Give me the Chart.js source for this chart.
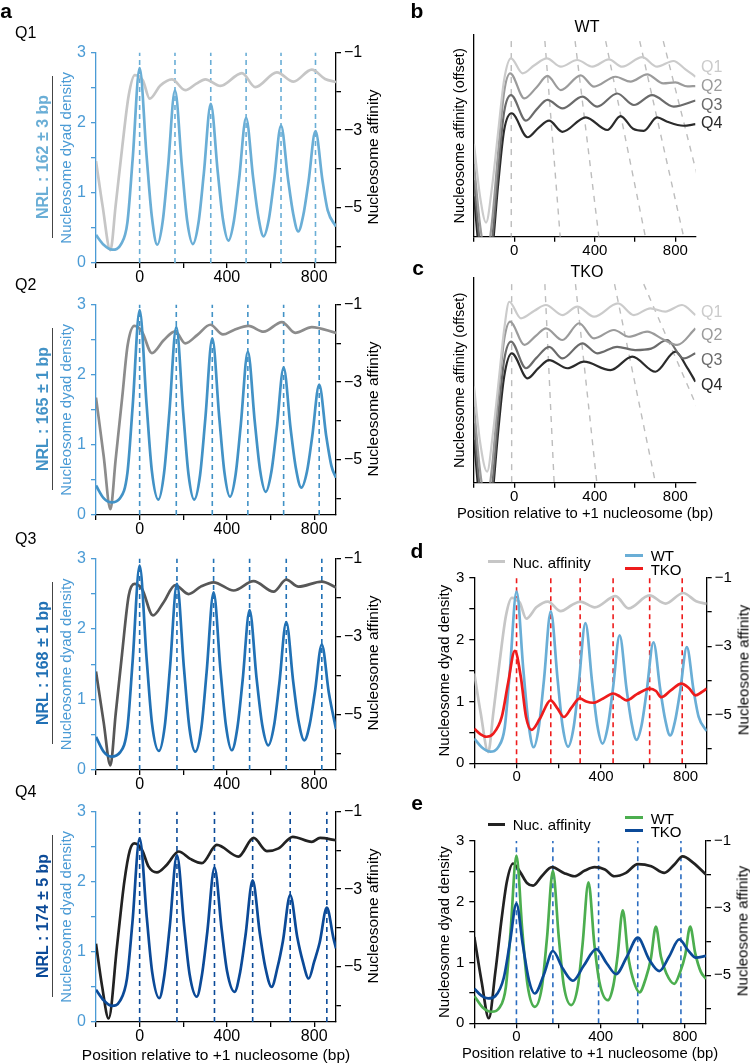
<!DOCTYPE html>
<html>
<head>
<meta charset="utf-8">
<script src="https://cdn.jsdelivr.net/npm/chart.js@4.4.1/dist/chart.umd.min.js"></script>
<style>
body { margin:0; background:#fff; font-family:"Liberation Sans", Arial, sans-serif; }
#page { position:relative; width:750px; height:1063px; overflow:hidden; background:#fff; }
#page canvas { position:absolute; }
.txt { position:absolute; white-space:nowrap; color:#000; line-height:1; }
.ctr { transform:translate(-50%,-50%); }
.lft { transform:translate(0,-50%); }
.rot { transform:translate(-50%,-50%) rotate(-90deg); }
.sw { position:absolute; height:3px; }
</style>
</head>
<body>
<div id="page"></div>
<script>
// ---- shared ticks ----
const xTickLabels = [0, 400, 800];
const densityTickLabels = [0, 1, 2, 3];
const affinityTickLabels = [-1, -3, -5];

// ---- panel a : dyad density [position, value] ----
const q1Density = [[-200,0.40],[-165,0.26],[-125,0.19],[-85,0.27],[-56,0.58],[-32,1.48],[0,2.78],[32,1.52],[56,0.66],[81,0.26],[106,0.6],[130,1.36],[162,2.46],[194,1.37],[218,0.6],[244,0.27],[270,0.58],[294,1.27],[326,2.27],[358,1.3],[382,0.62],[407,0.32],[432,0.6],[456,1.2],[488,2.07],[520,1.22],[544,0.66],[568,0.38],[592,0.62],[616,1.17],[648,1.96],[680,1.2],[704,0.7],[727,0.45],[750,0.68],[774,1.16],[806,1.88],[838,1.18],[862,0.75],[900,0.52]];
const q2Density = [[-200,0.42],[-165,0.24],[-130,0.18],[-90,0.24],[-56,0.6],[-32,1.55],[0,2.92],[32,1.57],[56,0.63],[86,0.22],[112,0.6],[136,1.45],[168,2.68],[200,1.45],[224,0.58],[250,0.22],[277,0.57],[301,1.37],[333,2.52],[365,1.39],[389,0.6],[414,0.26],[440,0.58],[464,1.3],[496,2.33],[528,1.32],[552,0.64],[578,0.33],[604,0.62],[628,1.22],[660,2.10],[692,1.23],[716,0.67],[741,0.39],[767,0.62],[791,1.12],[823,1.86],[855,1.13],[879,0.7],[900,0.53]];
const q3Density = [[-200,0.47],[-165,0.26],[-130,0.19],[-90,0.25],[-56,0.6],[-32,1.55],[0,2.90],[32,1.58],[57,0.65],[88,0.27],[115,0.62],[139,1.45],[171,2.64],[203,1.45],[228,0.6],[255,0.26],[283,0.6],[307,1.39],[339,2.52],[371,1.4],[396,0.62],[422,0.28],[448,0.6],[472,1.27],[504,2.27],[536,1.3],[562,0.64],[590,0.35],[616,0.63],[640,1.22],[672,2.10],[704,1.25],[728,0.7],[755,0.42],[779,0.64],[803,1.1],[835,1.78],[867,1.1],[900,0.58]];
const q4Density = [[-200,0.46],[-165,0.31],[-127,0.23],[-90,0.3],[-58,0.62],[-33,1.42],[0,2.62],[33,1.48],[58,0.7],[90,0.34],[113,0.66],[138,1.36],[171,2.38],[204,1.37],[229,0.68],[262,0.36],[285,0.66],[310,1.28],[343,2.20],[376,1.32],[401,0.72],[435,0.43],[460,0.7],[485,1.23],[518,2.02],[551,1.26],[576,0.78],[605,0.5],[632,0.78],[657,1.16],[690,1.81],[723,1.2],[748,0.86],[775,0.62],[800,0.86],[825,1.13],[858,1.63],[888,1.2],[900,1.05]];

// ---- panel a : nucleosome affinity ----
const q1Affinity = [[-200,-3.8],[-170,-4.95],[-134,-6.1],[-110,-4.95],[-80,-3.45],[-50,-2.1],[-22,-1.58],[15,-1.72],[46,-2.19],[95,-1.85],[148,-1.69],[209,-1.97],[260,-1.8],[301,-1.69],[370,-1.86],[469,-1.53],[530,-1.89],[629,-1.51],[705,-1.75],[789,-1.44],[850,-1.68],[900,-1.76]];
const q2Affinity = [[-200,-3.4],[-165,-4.9],[-134,-6.28],[-110,-5.0],[-80,-3.4],[-55,-2.05],[-24,-1.55],[11,-1.70],[56,-2.25],[110,-1.92],[163,-1.69],[209,-2.0],[265,-1.78],[324,-1.52],[382,-1.77],[430,-1.66],[499,-1.55],[568,-1.70],[652,-1.45],[713,-1.73],[789,-1.58],[900,-1.73]];
const q3Affinity = [[-200,-3.9],[-165,-5.2],[-134,-6.31],[-110,-5.0],[-81,-3.47],[-50,-1.95],[-24,-1.65],[11,-1.78],[61,-2.46],[110,-2.12],[163,-1.68],[224,-1.91],[280,-1.72],[339,-1.61],[431,-1.82],[522,-1.58],[614,-1.85],[672,-1.54],[728,-1.72],[835,-1.59],[900,-1.74]];
const q4Affinity = [[-200,-4.41],[-172,-5.51],[-142,-6.34],[-104,-4.49],[-70,-2.80],[-45,-2.0],[-24,-1.82],[11,-1.99],[41,-2.42],[79,-2.57],[125,-2.37],[179,-2.03],[232,-2.22],[285,-2.33],[354,-1.86],[453,-2.16],[522,-1.68],[583,-2.02],[637,-1.95],[702,-1.65],[789,-1.78],[827,-1.68],[900,-1.74]];

const q1Peaks = [0,162,326,488,648,806];
const q2Peaks = [0,168,333,496,660,823];
const q3Peaks = [0,171,339,504,672,835];
const q4Peaks = [0,171,343,518,690,858];
const nrlLabels = ['NRL : 162 \u00b1 3 bp','NRL : 165 \u00b1 1 bp','NRL : 168 \u00b1 1 bp','NRL : 174 \u00b1 5 bp'];

// ---- panel b (WT, offset affinity) ----
const bQ1 = [[-200,4.6],[-170,2.0],[-140,0.7],[-110,2.5],[-80,5.2],[-50,7.8],[-16,8.84],[41,8.1],[100,8.5],[162,8.84],[231,8.43],[313,8.76],[388,8.43],[470,8.79],[536,8.43],[635,8.9],[709,8.43],[790,8.71],[850,8.3],[900,7.93]];
const bQ2 = [[-200,3.6],[-170,0.6],[-140,-1.0],[-110,0.8],[-80,4.2],[-50,7.2],[-20,8.1],[50,6.86],[110,7.4],[165,7.97],[231,7.27],[330,8.0],[396,7.44],[503,7.93],[577,7.69],[660,8.05],[740,7.6],[800,7.65],[860,7.45],[900,7.47]];
const bQ3 = [[-200,2.8],[-170,-0.4],[-140,-2.0],[-110,-0.2],[-80,3.3],[-50,6.2],[-16,7.02],[58,5.75],[110,6.3],[165,6.78],[239,6.36],[338,6.94],[412,6.45],[511,7.1],[594,6.53],[684,7.02],[792,6.45],[900,6.75]];
const bQ4 = [[-200,2.0],[-170,-1.2],[-140,-2.8],[-110,-0.8],[-80,2.6],[-50,5.3],[-13,6.12],[66,4.93],[120,5.4],[173,5.75],[239,5.2],[355,5.92],[462,5.29],[528,5.98],[590,5.35],[643,5.25],[709,5.92],[760,5.7],[840,5.5],[900,5.58]];
const bDashTop = [-15,152,302,454,623,740];
const bDashBottom = [-15,228,420,651,841,985];

// ---- panel c (TKO, offset affinity) ----
const cQ1 = [[-200,4.7],[-170,2.0],[-135,0.54],[-105,2.5],[-75,5.2],[-50,7.5],[-25,8.84],[33,8.03],[100,8.4],[157,8.68],[239,8.19],[313,8.6],[396,8.11],[515,8.76],[594,8.19],[676,8.52],[750,8.36],[833,8.68],[900,8.19]];
const cQ2 = [[-200,3.7],[-170,0.6],[-140,-1.0],[-110,0.8],[-80,4.2],[-50,7.0],[-20,7.87],[50,6.73],[110,7.2],[157,7.54],[239,6.97],[322,7.79],[396,7.05],[495,7.46],[569,7.13],[660,7.38],[740,7.0],[810,6.73],[900,7.54]];
const cQ3 = [[-200,2.9],[-170,-0.4],[-140,-2.0],[-110,-0.2],[-80,3.2],[-50,6.0],[-16,6.89],[58,5.59],[110,6.1],[173,6.64],[239,6.07],[338,6.81],[412,6.32],[511,6.64],[600,6.48],[680,6.55],[759,6.97],[841,6.07],[900,6.32]];
const cQ4 = [[-200,2.1],[-170,-1.2],[-140,-2.8],[-110,-0.8],[-80,2.5],[-50,5.2],[-12,6.32],[66,5.1],[120,5.6],[173,5.99],[264,5.59],[346,5.91],[478,5.5],[586,6.16],[701,5.42],[800,6.4],[860,5.6],[900,4.93]];
const cDashTop = [-13,152,304,498,643];
const cDashBottom = [-13,198,410,701,1070];
const offsetDashY = [9.7, 0];

// ---- panel d ----
const dTko = [[-200,0.56],[-170,0.47],[-142,0.43],[-110,0.48],[-70,0.75],[-40,1.3],[-8,1.82],[20,1.4],[45,0.75],[71,0.54],[110,0.72],[161,1.02],[195,0.88],[224,0.75],[260,0.9],[299,1.05],[330,1.0],[362,0.98],[410,1.05],[457,1.13],[490,1.08],[520,1.02],[570,1.12],[630,1.21],[660,1.17],[685,1.07],[730,1.18],[780,1.29],[815,1.22],[847,1.1],[875,1.15],[900,1.21]];
const dPeaks = [0,162,301,457,630,784];

// ---- panel e ----
const eWt = [[-200,0.45],[-160,0.26],[-118,0.19],[-80,0.26],[-50,0.6],[-28,1.5],[0,2.76],[28,1.52],[52,0.65],[87,0.27],[121,0.6],[145,1.4],[173,2.51],[201,1.42],[225,0.62],[260,0.3],[292,0.62],[314,1.3],[342,2.32],[370,1.3],[394,0.68],[434,0.38],[460,0.62],[480,1.1],[505,1.86],[530,1.12],[552,0.75],[584,0.51],[615,0.75],[638,1.06],[662,1.59],[686,1.1],[712,0.82],[749,0.65],[778,0.85],[801,1.12],[825,1.59],[849,1.15],[875,0.85],[900,0.73]];
const eTko = [[-200,0.57],[-165,0.45],[-134,0.41],[-100,0.45],[-60,0.75],[-30,1.35],[0,1.97],[30,1.3],[60,0.7],[87,0.49],[130,0.8],[173,1.19],[220,0.9],[268,0.70],[320,0.95],[379,1.22],[430,0.98],[473,0.81],[525,1.1],[576,1.41],[630,1.05],[678,0.86],[725,1.1],[773,1.38],[815,1.2],[852,1.08],[900,1.11]];
const eAffinity = [[-200,-3.86],[-165,-5.2],[-131,-6.28],[-100,-4.9],[-70,-3.3],[-45,-2.2],[-16,-1.67],[20,-1.95],[50,-2.25],[79,-2.33],[120,-2.05],[169,-1.78],[225,-1.95],[276,-2.05],[325,-1.88],[371,-1.78],[420,-1.85],[465,-2.05],[520,-1.95],[576,-1.69],[640,-1.75],[702,-1.95],[750,-1.7],[789,-1.46],[840,-1.65],[900,-2.0]];
const ePeaks = [0,173,390,576,781];

// ---- colours ----
const blueQ = ['#6aaed6','#4292c6','#2171b5','#0b4a98'];
const grayA = ['#c6c6c6','#8c8c8c','#575757','#222222'];
const grayB = ['#cbcbcb','#9b9b9b','#6b6b6b','#2b2b2b'];
const axisBlue = '#4b9bd5';
const xTitle = 'Position relative to +1 nucleosome (bp)';

Chart.defaults.font.family = '"Liberation Sans", Arial, sans-serif';
Chart.defaults.font.size = 15;
Chart.defaults.color = '#000';

const page = document.getElementById('page');

function text(str, x, y, o) {
  o = o || {};
  const d = document.createElement('div');
  d.className = 'txt ' + (o.cls || 'ctr');
  d.textContent = str;
  d.style.left = x + 'px';
  d.style.top = y + 'px';
  d.style.fontSize = (o.size || 15) + 'px';
  if (o.color) d.style.color = o.color;
  if (o.bold) d.style.fontWeight = 'bold';
  page.appendChild(d);
}
function swatch(x, y, w, color) {
  const d = document.createElement('div');
  d.className = 'sw';
  d.style.left = x + 'px'; d.style.top = (y - 1.5) + 'px';
  d.style.width = w + 'px'; d.style.background = color;
  page.appendChild(d);
}

const pts = a => a.map(p => ({x: p[0], y: p[1]}));
function curve(arr, color, w, axis) {
  return {data: pts(arr), borderColor: color, borderWidth: w, pointRadius: 0,
          cubicInterpolationMode: 'monotone', yAxisID: axis || 'y', fill: false};
}
function vDashes(xs, color) {
  return xs.map(x => ({data: [{x: x, y: 0}, {x: x, y: 3}], borderColor: color, borderWidth: 1.6,
    borderDash: [5, 4], pointRadius: 0, yAxisID: 'y', fill: false}));
}
function slantDashes(tops, bottoms) {
  return tops.map((t, i) => ({data: [{x: t, y: offsetDashY[0]}, {x: bottoms[i], y: offsetDashY[1]}],
    borderColor: '#bdbdbd', borderWidth: 1.4, borderDash: [6, 6], pointRadius: 0, yAxisID: 'y', fill: false}));
}

const axisLine = c => ({display: true, color: c, width: 1.3});
const tickGrid = c => ({display: true, drawOnChartArea: false, drawTicks: true, tickLength: 5, color: c, lineWidth: 1.3});

function xScale(box, area, fs) {
  const h = box.y + box.h - area.b;
  return {
    type: 'linear', position: 'bottom', min: -200, max: 900,
    afterFit: s => { s.height = h; },
    ticks: {stepSize: 200, autoSkip: false, maxRotation: 0, includeBounds: false, padding: 0, color: '#000',
      font: {size: fs}, callback: v => xTickLabels.includes(v) ? String(v) : ''},
    grid: tickGrid('#000'), border: axisLine('#000')
  };
}
function densityScale(wl, color, fs) {
  return {
    type: 'linear', position: 'left', min: 0, max: 3,
    afterFit: s => { s.width = wl; },
    ticks: {stepSize: 0.5, includeBounds: false, padding: 5, color: color, font: {size: fs},
      callback: v => densityTickLabels.includes(v) ? String(v) : ''},
    grid: tickGrid(color), border: axisLine(color),
    title: {display: true, text: 'Nucleosome dyad density', color: color, font: {size: 15, lineHeight: 1}, padding: {top: 0, bottom: 0}}
  };
}
function affinityScale(wr, fs) {
  return {
    type: 'linear', position: 'right', min: -6.43, max: -1,
    afterFit: s => { s.width = wr; },
    ticks: {stepSize: 1, includeBounds: false, padding: 3, color: '#000', font: {size: fs},
      callback: v => affinityTickLabels.includes(v) ? '\u2212' + Math.abs(v) : ''},
    grid: tickGrid('#000'), border: axisLine('#000')
  };
}

function makeChart(box, area, datasets, scales, wl, wr) {
  const cv = document.createElement('canvas');
  cv.width = box.w; cv.height = box.h;
  cv.style.left = box.x + 'px'; cv.style.top = box.y + 'px';
  page.appendChild(cv);
  return new Chart(cv.getContext('2d'), {
    type: 'line',
    data: {datasets: datasets},
    options: {
      responsive: false, animation: false, events: [],
      layout: {padding: {left: area.l - box.x - wl, right: box.x + box.w - area.r - wr, top: area.t - box.y, bottom: 0}},
      plugins: {legend: {display: false}, tooltip: {enabled: false}},
      scales: scales
    }
  });
}

// ---------- panel a ----------
const qDens = [q1Density, q2Density, q3Density, q4Density];
const qAff = [q1Affinity, q2Affinity, q3Affinity, q4Affinity];
const qPeaks = [q1Peaks, q2Peaks, q3Peaks, q4Peaks];
const qTop = [50, 302.3, 556, 809.3];
const qBottom = [263.3, 516, 770, 1022.3];
for (let i = 0; i < 4; i++) {
  const area = {l: 96, r: 336, t: qTop[i], b: qBottom[i]};
  const box = {x: 0, y: area.t - 12, w: 392, h: area.b + 28 - (area.t - 12)};
  const wl = 36.5, wr = box.x + box.w - area.r;
  const ds = [curve(qDens[i], blueQ[i], 2.7), curve(qAff[i], grayA[i], 2.7, 'y2')].concat(vDashes(qPeaks[i], blueQ[i]));
  makeChart(box, area, ds, {
    x: xScale(box, area, 16),
    y: densityScale(wl, axisBlue, 16),
    y2: affinityScale(wr, 16)
  }, wl, wr);
  const cy = (area.t + area.b) / 2;
  text('Q' + (i + 1), 15, area.t - 17, {cls: 'lft', size: 16});
  text(nrlLabels[i], 43, cy, {cls: 'rot', bold: true, color: blueQ[i], size: 16});
  const sep = document.createElement('div');
  sep.style.cssText = 'position:absolute;left:51.5px;width:1.3px;background:#444;top:' + (cy - 81) + 'px;height:162px;';
  page.appendChild(sep);
  text('Nucleosome affinity', 373, cy, {cls: 'rot', size: 15.5});
}
text(xTitle, 216, 1055, {size: 15.5});
text('a', 6, 10, {size: 21, bold: true});

// ---------- panels b, c ----------
function offsetPanel(area, boxY, boxB, curves, tops, bottoms, title, titleY, labY) {
  const box = {x: 400, y: boxY, w: 300, h: boxB - boxY};
  const wl = 21.5;
  const ds = curves.map((c, i) => curve(c, grayB[i], 2.2)).concat(slantDashes(tops, bottoms));
  makeChart(box, area, ds, {
    x: xScale(box, area, 15),
    y: {type: 'linear', position: 'left', min: 0, max: 10, afterFit: s => { s.width = wl; },
        ticks: {display: false}, grid: {display: false}, border: axisLine('#000'),
        title: {display: true, text: 'Nucleosome affinity (offset)', color: '#000', font: {size: 14.5, lineHeight: 1}, padding: {top: 0, bottom: 0}}}
  }, wl, 0);
  text(title, 587, titleY, {size: 16});
  labY.forEach((y, i) => text('Q' + (i + 1), 701, y, {cls: 'lft', size: 16, color: grayB[i]}));
}
offsetPanel({l: 474, r: 695.5, t: 35, b: 236.7}, 22, 262, [bQ1, bQ2, bQ3, bQ4], bDashTop, bDashBottom, 'WT', 27, [67, 86, 105, 123]);
offsetPanel({l: 474, r: 695.5, t: 278, b: 482.7}, 266, 505, [cQ1, cQ2, cQ3, cQ4], cDashTop, cDashBottom, 'TKO', 272, [312, 335, 360, 385]);
text(xTitle, 585, 513, {size: 14.8});
text('b', 417, 10, {size: 21, bold: true});
text('c', 418, 267, {size: 21, bold: true});

// ---------- panel d ----------
(function () {
  const area = {l: 474.3, r: 706.7, t: 576.7, b: 763.3};
  const box = {x: 400, y: 564, w: 345, h: 790 - 564};
  const wl = 36.8, wr = box.x + box.w - area.r;
  const ds = [curve(dTko, '#ee1c1c', 2.7), curve(q1Density, blueQ[0], 2.7), curve(q1Affinity, grayA[0], 2.7, 'y2')]
    .concat(vDashes(dPeaks, '#ee1c1c'));
  makeChart(box, area, ds, {
    x: xScale(box, area, 15),
    y: densityScale(wl, '#000', 15),
    y2: affinityScale(wr, 15)
  }, wl, wr);
  text('Nucleosome affinity', 743, (area.t + area.b) / 2, {cls: 'rot'});
  text('d', 417, 550, {size: 21, bold: true});
  swatch(488, 561.7, 17, grayA[0]); text('Nuc. affinity', 512.7, 561.7, {cls: 'lft'});
  swatch(625, 555, 18, blueQ[0]); text('WT', 650.7, 555, {cls: 'lft'});
  swatch(625, 568, 18, '#ee1c1c'); text('TKO', 650.7, 569, {cls: 'lft'});
})();

// ---------- panel e ----------
(function () {
  const area = {l: 474.3, r: 706, t: 839.5, b: 1023.3};
  const box = {x: 400, y: 827, w: 345, h: 1046 - 827};
  const wl = 36.8, wr = box.x + box.w - area.r;
  const ds = [curve(eTko, '#0b4a98', 2.7), curve(eWt, '#4cae4f', 2.7), curve(eAffinity, '#222222', 2.7, 'y2')]
    .concat(vDashes(ePeaks, '#2a6cc0'));
  makeChart(box, area, ds, {
    x: xScale(box, area, 15),
    y: densityScale(wl, '#000', 15),
    y2: affinityScale(wr, 15)
  }, wl, wr);
  text('Nucleosome affinity', 742, (area.t + area.b) / 2, {cls: 'rot'});
  text(xTitle, 590, 1053.3, {size: 14.8});
  text('e', 417, 802, {size: 21, bold: true});
  swatch(488, 824, 17, '#222222'); text('Nuc. affinity', 512.7, 824, {cls: 'lft'});
  swatch(625, 817.3, 18, '#4cae4f'); text('WT', 650.7, 818, {cls: 'lft'});
  swatch(625, 830, 18, '#0b4a98'); text('TKO', 650.7, 831, {cls: 'lft'});
})();
</script>
</body>
</html>
